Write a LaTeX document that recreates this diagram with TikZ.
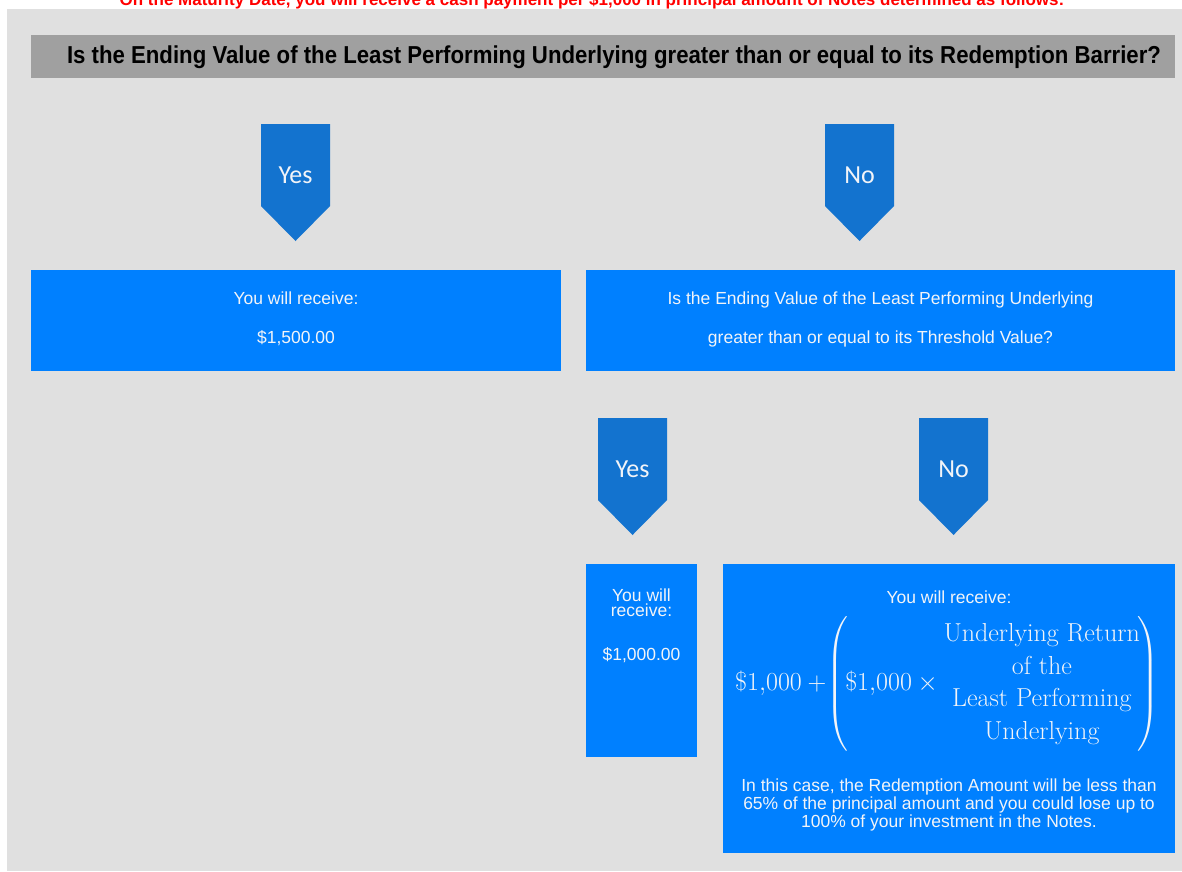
\RequirePackage{fix-cm}
\documentclass[tikz,border=0pt]{standalone}
\usepackage{amsmath}
\usepackage{fontspec}
\usepackage{graphicx}
\newfontfamily\arial{Liberation Sans}
\newfontfamily\calib{Carlito}
\definecolor{bgc}{HTML}{E0E0E0}
\definecolor{barc}{HTML}{A0A0A0}
\definecolor{boxc}{HTML}{0080FF}
\definecolor{arrc}{HTML}{1373CF}
\definecolor{txtc}{HTML}{F2F4F8}
\tikzset{
  bluebox/.style={fill=boxc, draw=none, inner sep=0pt},
  boxtext/.style={text=txtc, font=\arial\fontsize{17.5}{19}\selectfont, align=center, inner sep=0pt},
  branchtext/.style={text=txtc, font=\calib\fontsize{26}{30}\selectfont, inner sep=0pt},
  branch/.style={fill=arrc, draw=none}
}
\newcommand{\branchshape}[3]{% left x, top y, name
  \fill[branch] (#1,#2) -- ++(69,0) -- ++(0,82) -- ++(-34.5,35) -- ++(-34.5,-35) -- cycle;
}
\begin{document}
\begin{tikzpicture}[x=1pt,y=-1pt]
\useasboundingbox (0,0) rectangle (1182,871);
\fill[white] (0,0) rectangle (1182,871);
\fill[bgc] (7,9) rectangle (1182,871);

% red heading (cut by the top edge)
\node[text=red, font=\arial\bfseries\fontsize{17}{20}\selectfont, anchor=base, inner sep=0pt] (head) at (592,5.5)
  {On the Maturity Date, you will receive a cash payment per \$1,000 in principal amount of Notes determined as follows:};

% title bar
\node[fill=barc, minimum width=1144, minimum height=43, inner sep=0pt] (bar) at (603,56.5) {};
\node[font=\arial\bfseries\fontsize{24.5}{28}\selectfont, inner sep=0pt] (title) at (614,57)
  {\scalebox{0.906}[1]{Is the Ending Value of the Least Performing Underlying greater than or equal to its Redemption Barrier?}};

% first level branches
\branchshape{261}{124}{y1}
\node[branchtext] (yes1) at (295.5,175) {Yes};
\branchshape{825}{124}{n1}
\node[branchtext] (no1) at (859.5,175) {No};

% first level boxes
\node[bluebox, minimum width=530, minimum height=101] (box1) at (296,320.5) {};
\node[boxtext] (box1t) at (296,319) {You will receive:\\[20pt]\$1,500.00};
\node[bluebox, minimum width=589, minimum height=101] (box2) at (880.5,320.5) {};
\node[boxtext] (box2t) at (880.5,319.5) {Is the Ending Value of the Least Performing Underlying\\[20pt]greater than or equal to its Threshold Value?};

% second level branches
\branchshape{598}{418}{y2}
\node[branchtext] (yes2) at (632.5,469) {Yes};
\branchshape{919}{418}{n2}
\node[branchtext] (no2) at (953.5,469) {No};

% second level boxes
\node[bluebox, minimum width=111, minimum height=193] (box3) at (641.5,660.5) {};
\node[boxtext, anchor=north, font=\arial\fontsize{17.5}{15}\selectfont] (box3t) at (641.5,589)
  {You will\\receive:\\[29pt]\$1,000.00};
\node[bluebox, minimum width=452, minimum height=289] (box4) at (949,708.5) {};
\node[boxtext] (box4t) at (949,597) {You will receive:};
\node[text=txtc, font=\fontsize{26}{30}\selectfont, anchor=west, inner sep=0pt] (formula) at (735,684)
  {$\$1{,}000 + \mkern-4mu\left(\mkern-2mu\$1{,}000 \times
   {\renewcommand{\arraystretch}{1.08}\begin{array}{@{}c@{}}
   \text{Underlying Return}\\ \text{of the}\\ \text{Least Performing}\\ \text{Underlying}
   \end{array}}\mkern-2mu\right)$};
\node[boxtext, font=\arial\fontsize{17.5}{18}\selectfont] (box4p) at (949,805)
  {In this case, the Redemption Amount will be less than\\65\% of the principal amount and you could lose up to\\100\% of your investment in the Notes.};
\end{tikzpicture}
\end{document}
